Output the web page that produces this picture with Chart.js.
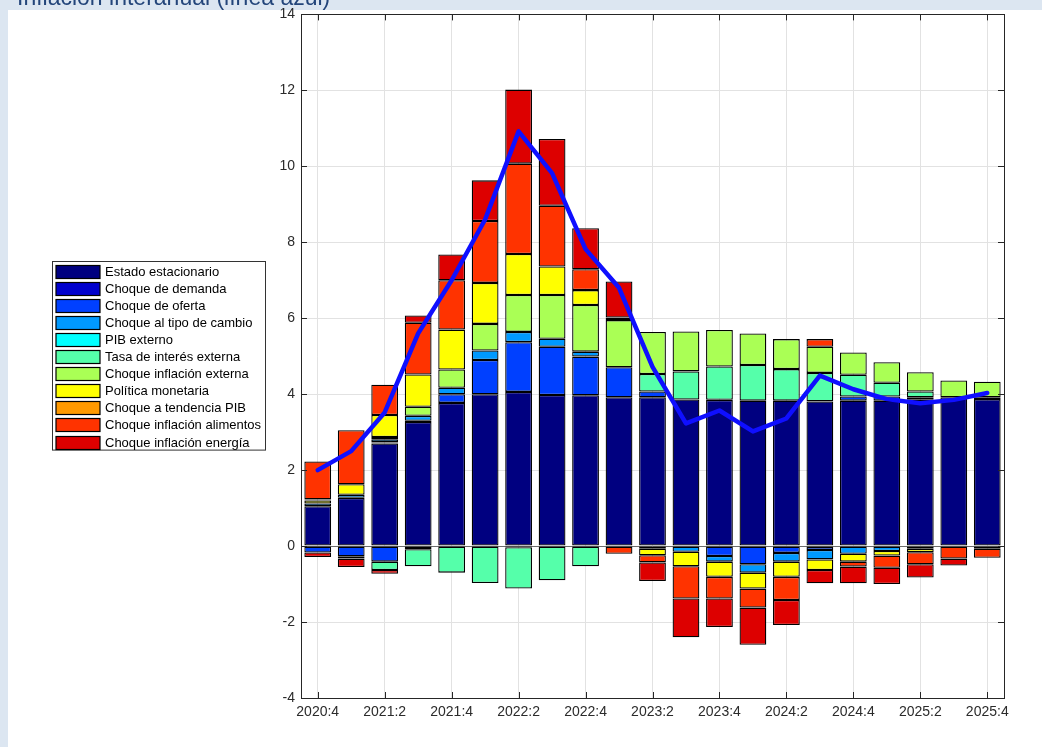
<!DOCTYPE html>
<html lang="es">
<head>
<meta charset="utf-8">
<title>Descomposición de la inflación interanual</title>
<script src="https://cdn.jsdelivr.net/npm/chart.js@4.4.1/dist/chart.umd.min.js"></script>
<style>
  html, body { margin: 0; padding: 0; background: #dce6f1; }
  canvas { display: block; }
</style>
</head>
<body>
<canvas id="chart" width="1042" height="747"></canvas>
<script>
// Trimestres (solo se rotula uno de cada dos)
const quarters = ['2020:4', '2021:1', '2021:2', '2021:3', '2021:4', '2022:1', '2022:2', '2022:3', '2022:4',
  '2023:1', '2023:2', '2023:3', '2023:4', '2024:1', '2024:2', '2024:3', '2024:4',
  '2025:1', '2025:2', '2025:3', '2025:4'];

// Contribuciones por choque (puntos porcentuales)
const estadoEstacionario = [1.05, 1.27, 2.70, 3.27, 3.77, 4.00, 4.06, 3.98, 3.97, 3.92, 3.92, 3.86, 3.85, 3.83, 3.83, 3.81, 3.83, 3.83, 3.85, 3.92, 3.87];
const choqueDemanda      = [0, 0, 0.03, 0.03, 0, 0, -0.03, 0, 0, 0, 0, 0, 0, 0, 0, 0, 0, 0, -0.07, 0, 0.05];
const choqueOferta       = [-0.17, -0.27, -0.41, -0.08, 0.23, 0.90, 1.31, 1.27, 1.02, 0.79, 0.15, 0, -0.26, -0.48, -0.18, -0.10, 0.11, 0.11, 0.07, 0, 0];
const tipoCambio         = [0.07, 0.08, 0.08, 0.13, 0.17, 0.25, 0.27, 0.21, 0.13, 0, -0.07, -0.15, -0.15, -0.22, -0.23, -0.25, -0.20, -0.13, 0, 0, 0];
const pibExterno         = [0, 0, 0, 0, 0, 0, 0, 0, 0, 0, 0, 0, 0, 0, 0, 0, 0, 0, 0, 0, 0];
const tasaExterna        = [0, -0.06, -0.22, -0.45, -0.70, -0.97, -1.09, -0.90, -0.53, 0, 0.46, 0.74, 0.88, 0.94, 0.83, 0.75, 0.57, 0.36, 0.15, 0, -0.07];
const inflacionExterna   = [0, 0, 0.06, 0.24, 0.48, 0.70, 0.97, 1.15, 1.23, 1.24, 1.11, 1.05, 0.96, 0.83, 0.79, 0.69, 0.59, 0.54, 0.51, 0.44, 0.41];
const politicaMonetaria  = [0.08, 0.28, 0.58, 0.85, 1.05, 1.08, 1.08, 0.75, 0.39, 0.07, -0.17, -0.38, -0.40, -0.42, -0.40, -0.28, -0.21, -0.12, -0.09, 0, 0];
const tendenciaPib       = [0.03, 0, 0, 0, 0, 0, 0, 0, 0, 0, 0, 0, 0, 0, 0, 0, 0, 0, 0, 0, 0];
const inflacionAlimentos = [1.00, 1.42, 0.80, 1.36, 1.30, 1.63, 2.38, 1.60, 0.55, -0.20, -0.19, -0.85, -0.57, -0.50, -0.61, 0.20, -0.13, -0.32, -0.32, -0.33, -0.24];
const inflacionEnergia   = [-0.12, -0.22, -0.10, 0.19, 0.68, 1.07, 1.95, 1.76, 1.08, 0.95, -0.49, -1.02, -0.75, -0.98, -0.66, -0.35, -0.44, -0.43, -0.35, -0.18, 0];

// Inflación interanual observada (línea azul)
const inflacionInteranual = [2.0, 2.5, 3.52, 5.6, 7.0, 8.6, 10.92, 9.82, 7.82, 6.8, 4.72, 3.23, 3.57, 3.02, 3.36, 4.49, 4.13, 3.87, 3.76, 3.85, 4.03];

const componentes = [
  ['Estado estacionario', estadoEstacionario, '#000080'],
  ['Choque de demanda', choqueDemanda, '#0000cd'],
  ['Choque de oferta', choqueOferta, '#0040ff'],
  ['Choque al tipo de cambio', tipoCambio, '#0099ff'],
  ['PIB externo', pibExterno, '#00ffff'],
  ['Tasa de interés externa', tasaExterna, '#55ffaa'],
  ['Choque inflación externa', inflacionExterna, '#aaff55'],
  ['Política monetaria', politicaMonetaria, '#ffff00'],
  ['Choque a tendencia PIB', tendenciaPib, '#ff9900'],
  ['Choque inflación alimentos', inflacionAlimentos, '#ff3300'],
  ['Choque inflación energía', inflacionEnergia, '#dd0000']
];

const FONT = '"Liberation Sans", Arial, sans-serif';
const GRID = '#e2e2e2';

// Fondo gris azulado, panel blanco y título
const fondo = {
  id: 'fondo',
  beforeDraw(chart) {
    const c = chart.ctx;
    c.save();
    c.fillStyle = '#dce6f1';
    c.fillRect(0, 0, chart.width, chart.height);
    c.fillStyle = '#ffffff';
    c.fillRect(8, 10, chart.width - 8, chart.height - 10);
    c.fillStyle = '#23457a';
    c.font = '23px ' + FONT;
    c.textBaseline = 'alphabetic';
    c.fillText('Inflación interanual (línea azul)', 17, 5);
    c.restore();
  }
};

// Caja de ejes con marcas hacia dentro
const marco = {
  id: 'marco',
  afterDatasetsDraw(chart) {
    const { ctx: c, chartArea: a, scales: { x, y } } = chart;
    c.save();
    c.strokeStyle = '#262626';
    c.lineWidth = 1;
    c.beginPath();
    x.ticks.forEach((t, i) => {
      if (i % 2) return;
      const px = Math.round(x.getPixelForTick(i)) + 0.5;
      c.moveTo(px, a.bottom); c.lineTo(px, a.bottom - 6);
      c.moveTo(px, a.top); c.lineTo(px, a.top + 6);
    });
    y.ticks.forEach(t => {
      const py = Math.round(y.getPixelForValue(t.value)) + 0.5;
      c.moveTo(a.left, py); c.lineTo(a.left + 6, py);
      c.moveTo(a.right, py); c.lineTo(a.right - 6, py);
    });
    c.stroke();
    c.strokeRect(Math.round(a.left) + 0.5, Math.round(a.top) + 0.5,
      Math.round(a.right - a.left), Math.round(a.bottom - a.top));
    c.restore();
  }
};

// Leyenda con recuadro a la izquierda del gráfico
const leyenda = {
  id: 'leyenda',
  afterDraw(chart) {
    const c = chart.ctx;
    const items = chart.data.datasets.filter(d => d.type === 'bar');
    const x0 = 52.5, y0 = 261.5, w = 213, rowH = 17.1;
    c.save();
    c.fillStyle = '#ffffff';
    c.fillRect(x0, y0, w, items.length * rowH + 0.5);
    c.strokeStyle = '#333333';
    c.lineWidth = 1;
    c.strokeRect(x0, y0, w, items.length * rowH + 0.5);
    c.font = '13px ' + FONT;
    c.textBaseline = 'middle';
    items.forEach((d, i) => {
      const top = Math.round(y0 + 3 + i * rowH) + 0.5;
      c.fillStyle = d.backgroundColor;
      c.fillRect(x0 + 3.5, top, 44, 13);
      c.strokeStyle = '#000000';
      c.lineWidth = 1.2;
      c.strokeRect(x0 + 3.5, top, 44, 13);
      c.fillStyle = '#000000';
      c.fillText(d.label, x0 + 52.5, top + 7);
    });
    c.restore();
  }
};

const datasets = componentes.map(([label, data, color]) => ({
  type: 'bar',
  label: label,
  data: data,
  backgroundColor: color,
  borderColor: '#000000',
  borderWidth: 1.3,
  borderSkipped: false,
  inflateAmount: 0,
  stack: 'componentes',
  order: 2,
  categoryPercentage: 0.8,
  barPercentage: 1.0
}));

datasets.push({
  type: 'line',
  label: 'Inflación interanual',
  data: inflacionInteranual,
  borderColor: '#0f0fff',
  borderWidth: 4.5,
  borderJoinStyle: 'round',
  borderCapStyle: 'round',
  pointRadius: 0,
  tension: 0,
  fill: false,
  stack: 'linea',
  order: 1
});

new Chart(document.getElementById('chart'), {
  type: 'bar',
  data: { labels: quarters, datasets: datasets },
  options: {
    responsive: false,
    animation: false,
    layout: { padding: { left: 261, top: 14, right: 38, bottom: 19 } },
    plugins: {
      legend: { display: false },
      tooltip: { enabled: false }
    },
    scales: {
      x: {
        stacked: true,
        offset: true,
        border: { display: false },
        grid: {
          offset: false,
          drawTicks: false,
          color: ctx => (ctx.index % 2 === 0 ? GRID : 'rgba(0,0,0,0)')
        },
        ticks: {
          autoSkip: false,
          maxRotation: 0,
          padding: 6,
          color: '#2b2b2b',
          font: { family: FONT, size: 14 },
          callback: (v, i) => (i % 2 === 0 ? quarters[i] : '')
        },
        afterFit(s) { s.height = 30; }
      },
      y: {
        stacked: true,
        min: -4,
        max: 14,
        border: { display: false },
        grid: {
          drawTicks: false,
          color: ctx => (ctx.tick && ctx.tick.value === 0 ? '#6b6b6b' : GRID)
        },
        ticks: {
          stepSize: 2,
          padding: 6,
          color: '#2b2b2b',
          font: { family: FONT, size: 14 }
        },
        afterFit(s) { s.width = 40; }
      }
    }
  },
  plugins: [fondo, marco, leyenda]
});
</script>
</body>
</html>
